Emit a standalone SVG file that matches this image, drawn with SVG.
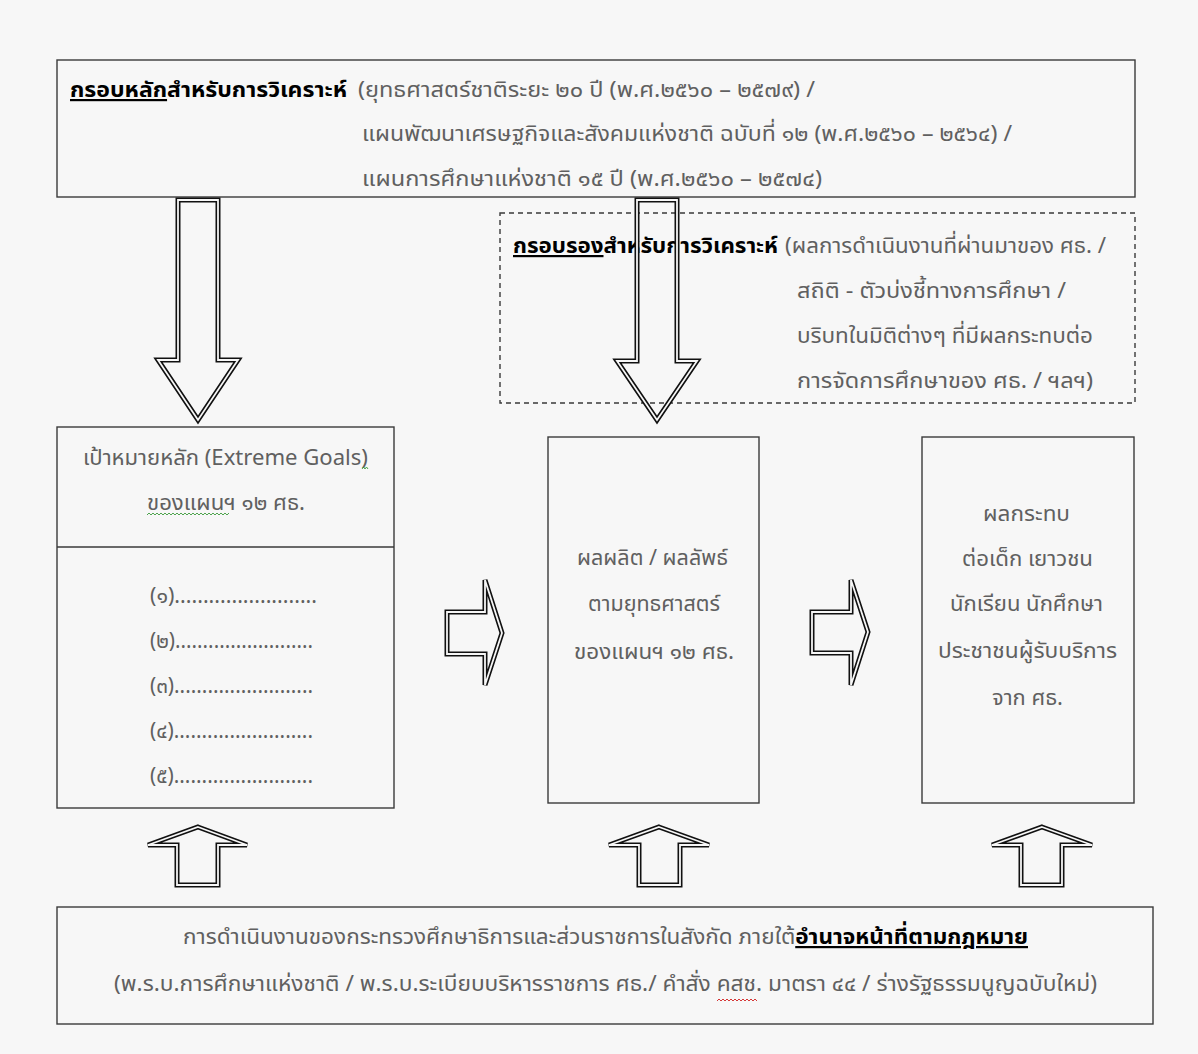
<svg xmlns="http://www.w3.org/2000/svg" width="1198" height="1054" viewBox="0 0 1198 1054">
<style>
.bg{fill:#f7f7f7}
.box{fill:none;stroke:#3a3a3a;stroke-width:1.4}
.dash{fill:none;stroke:#3a3a3a;stroke-width:1.4;stroke-dasharray:5 4}
.t{font-family:"Noto Sans Thai","Noto Sans","Liberation Sans",sans-serif;font-size:22px;fill:#606060}
.b{font-weight:bold;fill:#000}
.u{text-decoration:underline}
.ao{fill:none;stroke:#111;stroke-width:5;stroke-linejoin:miter}
.ai{fill:none;stroke:#f7f7f7;stroke-width:1.8;stroke-linejoin:miter}
.wg{fill:none;stroke:#3a9a3a;stroke-width:0.9}
.wr{fill:none;stroke:#d02020;stroke-width:0.9}
</style>
<defs>
<path id="dnL" d="M178,200 L218,200 L218,360 L238,360 L198,420 L158,360 L178,360 Z"/>
<path id="dnM" d="M637,200 L677,200 L677,361 L697,361 L657,420 L617,361 L637,361 Z"/>
<path id="rt1" d="M447,612 L485,612 L485,580 L502,633 L485,685 L485,654 L447,654 Z"/>
<path id="rt2" d="M812,612 L851,612 L851,580 L868,632 L851,685 L851,653 L812,653 Z"/>
<path id="up1" d="M198,827 L247,845 L218,845 L218,885 L177,885 L177,845 L148,845 Z"/>
<path id="up2" d="M659,827 L709,845 L680,845 L680,885 L639,885 L639,845 L609,845 Z"/>
<path id="up3" d="M1042,827 L1092,845 L1062,845 L1062,885 L1021,885 L1021,845 L992,845 Z"/>
</defs>
<rect class="bg" x="0" y="0" width="1198" height="1054"/>

<g id="main-framework">
<rect class="box" x="57" y="60" width="1078" height="137"/>
<text class="t b" x="70" y="97" textLength="277" lengthAdjust="spacingAndGlyphs"><tspan class="u">กรอบหลัก</tspan>สำหรับการวิเคราะห์</text>
<text class="t" x="358" y="97" textLength="457" lengthAdjust="spacingAndGlyphs">(ยุทธศาสตร์ชาติระยะ ๒๐ ปี (พ.ศ.๒๕๖๐ – ๒๕๗๙) /</text>
<text class="t" x="362" y="141" textLength="650" lengthAdjust="spacingAndGlyphs">แผนพัฒนาเศรษฐกิจและสังคมแห่งชาติ ฉบับที่ ๑๒ (พ.ศ.๒๕๖๐ – ๒๕๖๔) /</text>
<text class="t" x="362" y="186" textLength="460" lengthAdjust="spacingAndGlyphs">แผนการศึกษาแห่งชาติ ๑๕ ปี (พ.ศ.๒๕๖๐ – ๒๕๗๔)</text>
</g>

<g id="secondary-framework">
<rect class="dash" x="500" y="213" width="635" height="190"/>
<text class="t b" x="513" y="253" textLength="265" lengthAdjust="spacingAndGlyphs"><tspan class="u">กรอบรอง</tspan>สำหรับการวิเคราะห์</text>
<text class="t" x="785" y="253" textLength="321" lengthAdjust="spacingAndGlyphs">(ผลการดำเนินงานที่ผ่านมาของ ศธ. /</text>
<text class="t" x="797" y="298" textLength="269" lengthAdjust="spacingAndGlyphs">สถิติ - ตัวบ่งชี้ทางการศึกษา /</text>
<text class="t" x="797" y="343" textLength="296" lengthAdjust="spacingAndGlyphs">บริบทในมิติต่างๆ ที่มีผลกระทบต่อ</text>
<text class="t" x="797" y="388" textLength="296" lengthAdjust="spacingAndGlyphs">การจัดการศึกษาของ ศธ. / ฯลฯ)</text>
</g>

<g id="extreme-goals">
<rect class="box" x="57" y="427" width="337" height="381"/>
<line class="box" x1="57" y1="547" x2="394" y2="547"/>
<text class="t" x="83" y="465" textLength="285" lengthAdjust="spacingAndGlyphs">เป้าหมายหลัก (Extreme Goals)</text>
<text class="t" x="147" y="510" textLength="158" lengthAdjust="spacingAndGlyphs">ของแผนฯ ๑๒ ศธ.</text>
<path class="wg" d="M362,469 l1.5,-2 l1.5,2 l1.5,-2 l1.5,2"/>
<path class="wg" d="M147,515 l2,-2 l2,2 l2,-2 l2,2 l2,-2 l2,2 l2,-2 l2,2 l2,-2 l2,2 l2,-2 l2,2 l2,-2 l2,2 l2,-2 l2,2 l2,-2 l2,2 l2,-2 l2,2 l2,-2 l2,2 l2,-2 l2,2 l2,-2 l2,2 l2,-2 l2,2 l2,-2 l2,2 l2,-2 l2,2 l2,-2 l2,2 l2,-2 l2,2 l2,-2 l2,2 l2,-2 l2,2 l2,-2"/>
<text class="t" x="150" y="603" textLength="167" lengthAdjust="spacingAndGlyphs">(๑).........................</text>
<text class="t" x="150" y="648" textLength="163" lengthAdjust="spacingAndGlyphs">(๒).........................</text>
<text class="t" x="150" y="693" textLength="163" lengthAdjust="spacingAndGlyphs">(๓).........................</text>
<text class="t" x="150" y="738" textLength="163" lengthAdjust="spacingAndGlyphs">(๔).........................</text>
<text class="t" x="150" y="783" textLength="163" lengthAdjust="spacingAndGlyphs">(๕).........................</text>
</g>

<g id="outputs">
<rect class="box" x="548" y="437" width="211" height="366"/>
<text class="t" x="577" y="565" textLength="151" lengthAdjust="spacingAndGlyphs">ผลผลิต / ผลลัพธ์</text>
<text class="t" x="588" y="611" textLength="132" lengthAdjust="spacingAndGlyphs">ตามยุทธศาสตร์</text>
<text class="t" x="574" y="659" textLength="160" lengthAdjust="spacingAndGlyphs">ของแผนฯ ๑๒ ศธ.</text>
</g>

<g id="impacts">
<rect class="box" x="922" y="437" width="212" height="366"/>
<text class="t" x="983" y="521" textLength="87" lengthAdjust="spacingAndGlyphs">ผลกระทบ</text>
<text class="t" x="962" y="566" textLength="131" lengthAdjust="spacingAndGlyphs">ต่อเด็ก เยาวชน</text>
<text class="t" x="950" y="611" textLength="153" lengthAdjust="spacingAndGlyphs">นักเรียน นักศึกษา</text>
<text class="t" x="938" y="658" textLength="179" lengthAdjust="spacingAndGlyphs">ประชาชนผู้รับบริการ</text>
<text class="t" x="992" y="705" textLength="71" lengthAdjust="spacingAndGlyphs">จาก ศธ.</text>
</g>

<g id="operations">
<rect class="box" x="57" y="907" width="1096" height="117"/>
<text class="t" x="183" y="944" textLength="845" lengthAdjust="spacingAndGlyphs">การดำเนินงานของกระทรวงศึกษาธิการและส่วนราชการในสังกัด ภายใต้<tspan class="b u">อำนาจหน้าที่ตามกฎหมาย</tspan></text>
<text class="t" x="114" y="991" textLength="983" lengthAdjust="spacingAndGlyphs">(พ.ร.บ.การศึกษาแห่งชาติ / พ.ร.บ.ระเบียบบริหารราชการ ศธ./ คำสั่ง คสช. มาตรา ๔๔ / ร่างรัฐธรรมนูญฉบับใหม่)</text>
<path class="wr" d="M717,1001 l2,-2 l2,2 l2,-2 l2,2 l2,-2 l2,2 l2,-2 l2,2 l2,-2 l2,2 l2,-2 l2,2 l2,-2 l2,2 l2,-2 l2,2 l2,-2 l2,2 l2,-2 l2,2"/>
</g>

<g id="connectors">
<use href="#dnL" class="ao"/><use href="#dnL" class="ai"/>
<use href="#dnM" class="ao"/><use href="#dnM" class="ai"/>
<use href="#rt1" class="ao"/><use href="#rt1" class="ai"/>
<use href="#rt2" class="ao"/><use href="#rt2" class="ai"/>
<use href="#up1" class="ao"/><use href="#up1" class="ai"/>
<use href="#up2" class="ao"/><use href="#up2" class="ai"/>
<use href="#up3" class="ao"/><use href="#up3" class="ai"/>
</g>
</svg>
